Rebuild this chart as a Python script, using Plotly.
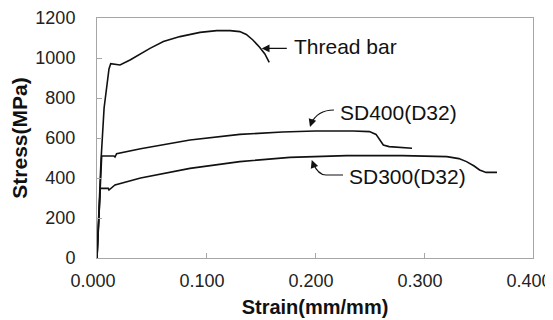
import plotly.graph_objects as go

# ---- data ----
thread_strain = [0, 0.0037, 0.0065, 0.0095, 0.011, 0.0126, 0.017, 0.0211, 0.0303, 0.0486,
                 0.0609, 0.0761, 0.0945, 0.1098, 0.122, 0.131, 0.137, 0.143, 0.149, 0.154, 0.158]
thread_stress = [0, 490, 750, 880, 945, 972, 968, 965, 990, 1048,
                 1082, 1107, 1128, 1137, 1137, 1132, 1118, 1090, 1055, 1020, 978]

sd400_strain = [0, 0.0043, 0.0155, 0.0165, 0.018, 0.04, 0.0853, 0.131, 0.17, 0.2,
                0.235, 0.25, 0.256, 0.2596, 0.2627, 0.268, 0.289]
sd400_stress = [0, 510, 510, 505, 522, 546, 590, 618, 630, 635,
                635, 632, 618, 592, 565, 557, 549]

sd300_strain = [0, 0.003, 0.0104, 0.011, 0.0165, 0.04, 0.0853, 0.131, 0.177, 0.229,
                0.28, 0.321, 0.332, 0.339, 0.346, 0.351, 0.357, 0.367]
sd300_stress = [0, 348, 348, 340, 365, 400, 448, 482, 503, 512,
                512, 507, 497, 482, 460, 440, 428, 428]

series_names = ["Thread bar", "SD400(D32)", "SD300(D32)"]
x_ticks = [0, 0.1, 0.2, 0.3, 0.4]
y_ticks = [0, 200, 400, 600, 800, 1000, 1200]

FONT = "Arial, 'Liberation Sans', sans-serif"
AX = "#a6a6a6"

fig = go.Figure()
for xs, ys, nm in [(thread_strain, thread_stress, series_names[0]),
                   (sd400_strain, sd400_stress, series_names[1]),
                   (sd300_strain, sd300_stress, series_names[2])]:
    fig.add_trace(go.Scatter(x=xs, y=ys, mode="lines", name=nm,
                             line=dict(color="#111111", width=1.6), showlegend=False))

# ---- labels ----
lab_font = dict(family=FONT, size=21, color="#111111")
fig.add_annotation(x=0.1786, y=1060, text=series_names[0], showarrow=False,
                   xanchor="left", yanchor="middle", font=lab_font)
fig.add_annotation(x=0.2214, y=726, text=series_names[1], showarrow=False,
                   xanchor="left", yanchor="middle", font=lab_font)
fig.add_annotation(x=0.229, y=410, text=series_names[2], showarrow=False,
                   xanchor="left", yanchor="middle", font=lab_font)

# Thread bar straight arrow
fig.add_annotation(x=0.1511, y=1048, ax=0.1755, ay=1048, axref="x", ayref="y",
                   text="", showarrow=True, arrowhead=2, arrowsize=1.3,
                   arrowwidth=1.2, arrowcolor="#111111")

# SD400 curved arrow
fig.add_shape(type="path", xref="x", yref="y",
              path="M 0.2174,740 C 0.2064,740 0.2,715 0.1963,670",
              line=dict(color="#111111", width=1.2))
fig.add_annotation(x=0.1954, y=655, ax=3, ay=-9, text="", showarrow=True,
                   arrowhead=2, arrowsize=1.3, arrowwidth=1.2, arrowcolor="#111111")

# SD300 curved arrow
fig.add_shape(type="path", xref="x", yref="y",
              path="M 0.2257,415 L 0.2101,415 C 0.2046,415 0.2009,440 0.1982,475",
              line=dict(color="#111111", width=1.2))
fig.add_annotation(x=0.197, y=490, ax=3, ay=8, text="", showarrow=True,
                   arrowhead=2, arrowsize=1.3, arrowwidth=1.2, arrowcolor="#111111")

# the page body has an 8px margin, so the figure is sized/offset to compensate
fig.update_layout(
    width=545, height=312,
    margin=dict(l=89, r=20, t=10, b=62),
    paper_bgcolor="white", plot_bgcolor="white",
    font=dict(family=FONT, color="#111111"),
)
fig.update_xaxes(range=[0, 0.4], tickvals=x_ticks, tickformat=".3f",
                 showgrid=False, zeroline=False, automargin=False,
                 showline=True, linecolor=AX, linewidth=1, mirror=True,
                 ticks="inside", ticklen=5, tickcolor=AX,
                 tickfont=dict(family=FONT, size=18, color="#222222"),
                 ticklabelstandoff=6, ticklabelshift=-4, ticklabeloverflow="allow",
                 title=dict(text="<b>Strain(mm/mm)</b>", standoff=10,
                            font=dict(family=FONT, size=20, color="#111111")))
fig.update_yaxes(range=[0, 1200], tickvals=y_ticks,
                 showgrid=False, zeroline=False, automargin=False,
                 showline=True, linecolor=AX, linewidth=1, mirror=True,
                 ticks="inside", ticklen=5, tickcolor=AX,
                 tickfont=dict(family=FONT, size=18, color="#222222"),
                 ticklabelstandoff=17, ticklabeloverflow="allow",
                 title=dict(text="<b>Stress(MPa)</b>", standoff=6,
                            font=dict(family=FONT, size=21, color="#111111")))

fig.write_html("out.html")
